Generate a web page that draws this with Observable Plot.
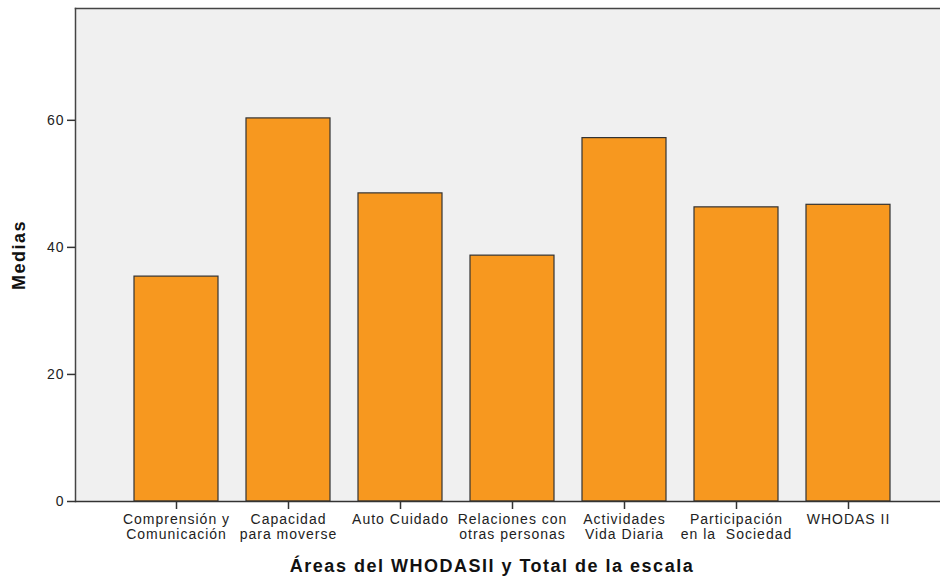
<!DOCTYPE html>
<html>
<head>
<meta charset="utf-8">
<script src="https://cdn.jsdelivr.net/npm/d3@7"></script>
<script src="https://cdn.jsdelivr.net/npm/@observablehq/plot@0.6"></script>
<style>
  html, body { margin: 0; padding: 0; background: #ffffff; }
  #chart { width: 940px; height: 579px; }
</style>
</head>
<body>
<div id="chart"></div>
<script>
const areas = [
  "Comprensión y Comunicación",
  "Capacidad para moverse",
  "Auto Cuidado",
  "Relaciones con otras personas",
  "Actividades Vida Diaria",
  "Participación en la Sociedad",
  "WHODAS II"
];
const tickLabels = [
  "Comprensión y\nComunicación",
  "Capacidad\npara moverse",
  "Auto Cuidado",
  "Relaciones con\notras personas",
  "Actividades\nVida Diaria",
  "Participación\nen la  Sociedad",
  "WHODAS II"
];
const medias = [35.4, 60.3, 48.5, 38.7, 57.2, 46.3, 46.7];
const yTicks = [0, 20, 40, 60];
const yLabel = "Medias";
const xLabel = "Áreas del WHODASII y Total de la escala";

const data = areas.map((a, i) => ({area: a, media: medias[i]}));
const labelOf = new Map(areas.map((a, i) => [a, tickLabels[i]]));

const font = "'Liberation Sans', Arial, sans-serif";

const chart = Plot.plot({
  width: 940,
  height: 579,
  marginLeft: 75,
  marginRight: 0,
  marginTop: 8,
  marginBottom: 78,
  style: {background: "#ffffff", fontFamily: font, color: "#222"},
  x: {domain: areas, range: [105, 919.5], padding: 0.25, align: 0.5, label: null},
  y: {domain: [0, 77.6], label: null},
  marks: [
    Plot.frame({fill: "#f0f0f0", stroke: null}),
    Plot.barY(data, {x: "area", y: "media", fill: "#f7981f", stroke: "#333", strokeWidth: 1.2}),
    Plot.frame({anchor: "left", stroke: "#444", strokeWidth: 1.5}),
    Plot.frame({anchor: "top", stroke: "#444", strokeWidth: 1.5}),
    Plot.ruleY([0], {stroke: "#333", strokeWidth: 1.5}),
    Plot.axisY({ticks: yTicks, tickSize: 8, tickPadding: 3, tickFormat: d => d, fontSize: 14, label: null, stroke: "#333", strokeWidth: 1.5}),
    Plot.axisX({tickSize: 8, tickPadding: 4, tickFormat: d => labelOf.get(d), fontSize: 14, lineHeight: 1.07, label: null, stroke: "#333", strokeWidth: 1.5}),
    Plot.text([yLabel], {frameAnchor: "left", dx: -56, rotate: -90, textAnchor: "middle", fontSize: 18, fontWeight: "bold", fill: "#111"}),
    Plot.text([xLabel], {frameAnchor: "bottom", dy: 70, dx: -16, fontSize: 18, fontWeight: "bold", fill: "#111"})
  ]
});
document.getElementById("chart").appendChild(chart);
d3.select(chart).selectAll("g[aria-label='x-axis tick label'] text, g[aria-label='y-axis tick label'] text").style("letter-spacing", "1px");
d3.select(chart).selectAll("g[aria-label='text'] text").style("letter-spacing", "1.5px");
</script>
</body>
</html>
